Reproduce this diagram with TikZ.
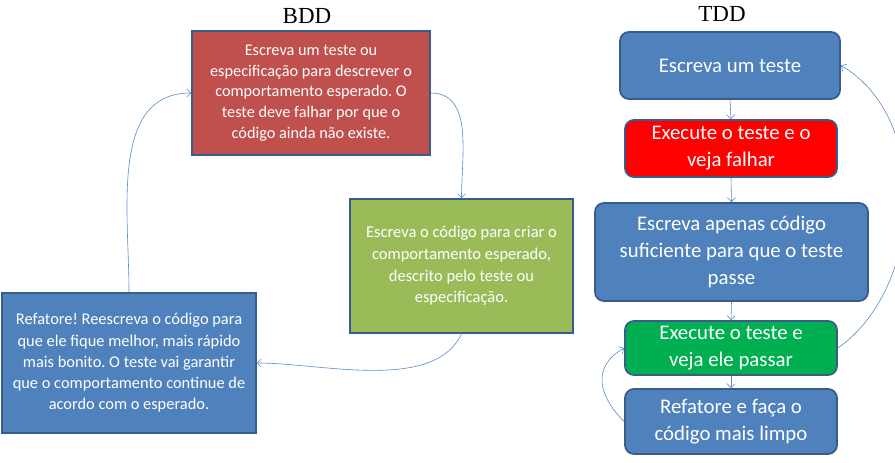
\documentclass[tikz,border=0pt]{standalone}
\usepackage{fontspec}
\setmainfont{Carlito}
\newfontfamily\titlefont{Liberation Serif}
\usepackage{xcolor}
\usetikzlibrary{positioning, arrows.meta}
\frenchspacing

\definecolor{boxedge}{HTML}{385D8A}
\definecolor{boxblue}{HTML}{4F81BD}
\definecolor{boxred}{HTML}{C0504D}
\definecolor{boxolive}{HTML}{9BBB59}
\definecolor{boxgreen}{HTML}{00B050}
\definecolor{linkblue}{HTML}{5B8BC9}

\tikzset{
  bddbox/.style={draw=boxedge, line width=1.6pt, text=white, align=center, inner sep=0pt},
  tddbox/.style={draw=boxedge, line width=1.8pt, rounded corners=9pt, text=white, align=center, inner sep=0pt, font=\fontsize{20.8}{26.8}\selectfont},
  flow/.style={draw=linkblue, line width=0.6pt, -{Straight Barb[length=4pt,width=8pt]}},
  heading/.style={font=\titlefont\fontsize{23}{26}\selectfont}
}

\begin{document}
\begin{tikzpicture}[x=1pt, y=-1pt]
  \useasboundingbox (0,0) rectangle (895,463);

  % BDD
  \node[heading] (bddtitle) at (307,16) {BDD};
  \node[bddbox, fill=boxred, minimum width=238pt, minimum height=124pt, font=\fontsize{16.3}{20.7}\selectfont] (bddspec) at (311,93)
    {Escreva um teste ou\\especificação para descrever o\\comportamento esperado. O\\teste deve falhar por que o\\código ainda não existe.};
  \node[bddbox, fill=boxolive, minimum width=223pt, minimum height=134pt, font=\fontsize{16.5}{21.7}\selectfont] (bddcode) at (461.5,266)
    {Escreva o código para criar o\\comportamento esperado,\\descrito pelo teste ou\\especificação.};
  \node[bddbox, fill=boxblue, minimum width=254pt, minimum height=140pt, font=\fontsize{16.4}{21.3}\selectfont] (bddrefat) at (129,363)
    {Refatore! Reescreva o código para\\que ele fique melhor, mais rápido\\mais bonito. O teste vai garantir\\que o comportamento continue de\\acordo com o esperado.};

  \draw[flow] (bddspec.east) to[out=0, in=90] (bddcode.north);
  \draw[flow] (bddcode.south) to[out=-115, in=0, looseness=0.8] (bddrefat.east);
  \draw[flow] (bddrefat.north) to[out=90, in=180] (bddspec.west);

  % TDD
  \node[heading] (tddtitle) at (722,14) {TDD};
  \node[tddbox, fill=boxblue, minimum width=220pt, minimum height=67pt] (tddwrite) at (730,65.5)
    {Escreva um teste};
  \node[tddbox, fill=red, minimum width=212pt, minimum height=57pt] (tddfail) at (731,148.5)
    {Execute o teste e o\\veja falhar};
  \node[tddbox, fill=boxblue, minimum width=273pt, minimum height=98pt] (tddcode) at (731.5,252)
    {Escreva apenas código\\suficiente para que o teste\\passe};
  \node[tddbox, fill=boxgreen, minimum width=212pt, minimum height=54pt] (tddpass) at (731,348)
    {Execute o teste e\\veja ele passar};
  \node[tddbox, fill=boxblue, minimum width=212pt, minimum height=65pt] (tddrefat) at (731,421.5)
    {Refatore e faça o\\código mais limpo};

  \foreach \a/\b in {tddwrite/tddfail, tddfail/tddcode, tddcode/tddpass, tddpass/tddrefat} {
    \draw[flow] (\a.south) -- (\b.north);
  }
  \draw[flow] (tddpass.east) to[out=35, in=-30, looseness=0.95] (tddwrite.east);
  \draw[flow] (tddrefat.west) to[out=135, in=210, looseness=1.3] (tddpass.west);
\end{tikzpicture}
\end{document}
